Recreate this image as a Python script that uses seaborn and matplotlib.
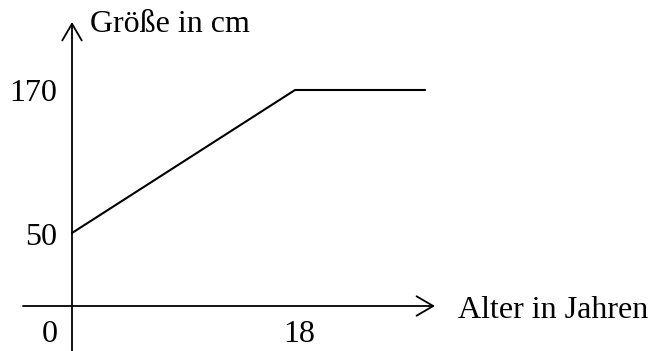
import matplotlib
matplotlib.use("Agg")
import matplotlib.pyplot as plt
import seaborn as sns
import pandas as pd

# Growth model: height rises linearly until age 18, then stays constant
ages = [0, 18, 28.5]
heights = [50, 170, 170]
x_ticks = [0, 18]
x_tick_labels = ["0", "18"]
y_ticks = [50, 170]
y_tick_labels = ["50", "170"]
x_label = "Alter in Jahren"
y_label = "Größe in cm"

sns.set_style("white")
plt.rcParams["font.family"] = ["Liberation Serif", "DejaVu Serif"]
plt.rcParams["text.color"] = "black"

W, H = 651, 351
fig = plt.figure(figsize=(W / 100, H / 100), dpi=100)
ax = fig.add_axes([0, 0, 1, 1])

# data window (origin sits left of centre, leaving room for labels)
x_per_px = 1 / 12.39
y_per_px = 1 / 1.1917
x0 = -72 * x_per_px
y0 = 50 - (H - 233) * y_per_px
ax.set_xlim(x0, x0 + W * x_per_px)
ax.set_ylim(y0, y0 + H * y_per_px)
ax.axis("off")

df = pd.DataFrame({"Alter": ages, "Größe": heights})
sns.lineplot(data=df, x="Alter", y="Größe", ax=ax, color="black",
             linewidth=1.5, sort=False, legend=False)


def fx(px):
    return px / W


def fy(py):
    return 1 - py / H


arrow = dict(arrowstyle="->,head_length=0.6,head_width=0.35",
             color="black", lw=1.3, shrinkA=0, shrinkB=0,
             mutation_scale=20)
# vertical axis through x = 0
ax.annotate("", xy=(0, fy(22)), xytext=(0, 0),
            xycoords=("data", "axes fraction"),
            textcoords=("data", "axes fraction"), arrowprops=arrow)
# horizontal axis slightly below the lowest drawn value
ax.annotate("", xy=(fx(435), fy(306)), xytext=(fx(23), fy(306)),
            xycoords="axes fraction", textcoords="axes fraction",
            arrowprops=arrow)

fs = 23
for v, lab in zip(y_ticks, y_tick_labels):
    ax.annotate(lab, xy=(0, v), xytext=(-15, -4), textcoords="offset pixels",
                ha="right", va="center", fontsize=fs, color="black")

x_offsets = {0: -22, 18: 4}
for v, lab in zip(x_ticks, x_tick_labels):
    ax.annotate(lab, xy=(v, 0), xycoords=("data", "axes fraction"),
                xytext=(x_offsets[v], H - 334), textcoords="offset pixels",
                ha="center", va="center", fontsize=fs, color="black")

ax.text(fx(90), fy(25), y_label, transform=ax.transAxes, ha="left",
        va="center", fontsize=fs, color="black")
ax.text(fx(458), fy(310), x_label, transform=ax.transAxes, ha="left",
        va="center", fontsize=fs, color="black")

fig.savefig("out.png", dpi=100, facecolor="white")
